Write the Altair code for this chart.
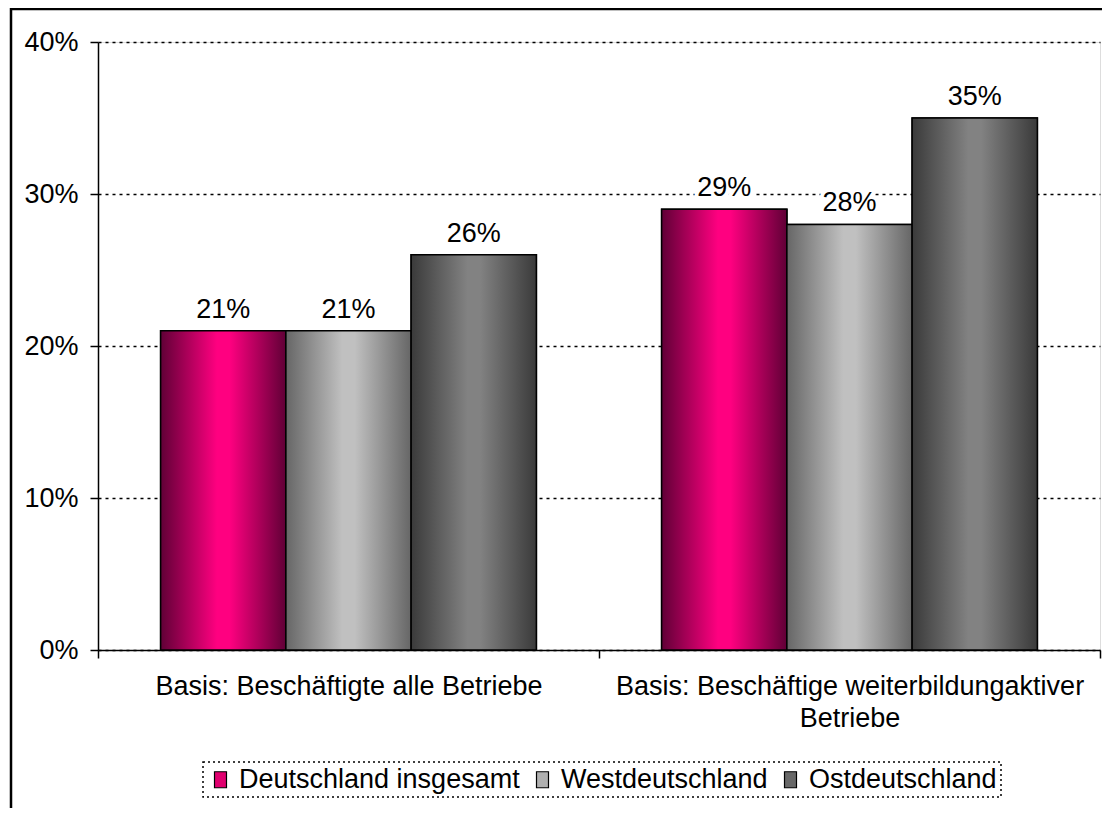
import altair as alt
import pandas as pd

categories = [
    "Basis: Beschäftigte alle Betriebe",
    "Basis: Beschäftige weiterbildungaktiver Betriebe",
]
regions = ["Deutschland insgesamt", "Westdeutschland", "Ostdeutschland"]
values_deutschland = [0.21, 0.29]
values_west = [0.21, 0.28]
values_ost = [0.26, 0.35]
y_ticks = [0, 0.1, 0.2, 0.3, 0.4]

legend_colors = ["#e0006f", "#b0b0b0", "#686868"]
edge_colors = ["#600036", "#666666", "#3a3a3a"]
center_colors = ["#ff0080", "#c0c0c0", "#828282"]

FONT = "Liberation Sans"
FS = 27

rows = []
for reg, vals in zip(regions, [values_deutschland, values_west, values_ost]):
    for cat, v in zip(categories, vals):
        rows.append({"category": cat, "region": reg, "value": v})
df = pd.DataFrame(rows)

x_enc = alt.X(
    "category:N",
    sort=categories,
    scale=alt.Scale(paddingInner=0, paddingOuter=0),
    axis=alt.Axis(
        title=None,
        labelFontSize=FS,
        labelFont=FONT,
        labelColor="black",
        labelAngle=0,
        labelPadding=15,
        labelLineHeight=32,
        labelBaseline="top",
        labelLimit=0,
        labelExpr="length(datum.label) > 40 ? [slice(datum.label, 0, lastindexof(datum.label, ' ')), slice(datum.label, lastindexof(datum.label, ' ') + 1)] : datum.label",
        domainColor="black",
        domainWidth=1.5,
        tickColor="black",
        tickWidth=1.5,
        tickSize=8,
        tickBand="extent",
        grid=False,
    ),
)
y_enc = alt.Y(
    "value:Q",
    scale=alt.Scale(domain=[0, 0.4], nice=False),
    axis=alt.Axis(
        title=None,
        values=y_ticks,
        format=".0%",
        labelFontSize=FS,
        labelFont=FONT,
        labelColor="black",
        labelPadding=12,
        domainColor="black",
        domainWidth=1.5,
        tickColor="black",
        tickWidth=1.5,
        tickSize=8,
        grid=True,
        gridColor="black",
        gridDash=[3, 4],
        gridWidth=1.5,
    ),
)
xoff = alt.XOffset(
    "region:N",
    sort=regions,
    scale=alt.Scale(domain=regions, paddingInner=0, paddingOuter=0.5),
)

base = alt.Chart(df)

legend_layer = base.mark_bar(stroke="black", strokeWidth=1.5).encode(
    x=x_enc,
    y=y_enc,
    xOffset=xoff,
    color=alt.Color(
        "region:N",
        sort=regions,
        scale=alt.Scale(domain=regions, range=legend_colors),
        legend=alt.Legend(
            title=None,
            orient="none",
            legendX=105,
            legendY=720,
            direction="horizontal",
            symbolType="M-0.75,-1H0.75V1H-0.75Z",
            symbolSize=256,
            symbolStrokeColor="black",
            symbolStrokeWidth=1.2,
            symbolOpacity=1,
            labelFontSize=FS,
            labelFont=FONT,
            labelColor="black",
            labelLimit=0,
            labelOffset=5,
            columnPadding=9,
            padding=4,
            strokeColor="black",
        ),
    ),
)

grad_layers = []
for reg, ec, cc in zip(regions, edge_colors, center_colors):
    grad = alt.Gradient(
        gradient="linear",
        x1=0, x2=1, y1=0, y2=0,
        stops=[
            alt.GradientStop(color=ec, offset=0),
            alt.GradientStop(color=cc, offset=0.45),
            alt.GradientStop(color=cc, offset=0.55),
            alt.GradientStop(color=ec, offset=1),
        ],
    )
    grad_layers.append(
        base.transform_filter(alt.datum.region == reg)
        .mark_bar(fill=grad, stroke="black", strokeWidth=1.5)
        .encode(x=x_enc, y=y_enc, xOffset=xoff)
    )

label_bg = base.mark_text(
    baseline="alphabetic", dy=-13, fontSize=FS, font=FONT,
    fill="white", stroke="white", strokeWidth=8,
).encode(x=x_enc, y=y_enc, xOffset=xoff, text=alt.Text("value:Q", format=".0%"))

labels = base.mark_text(
    baseline="alphabetic", dy=-13, fontSize=FS, font=FONT, color="black",
).encode(x=x_enc, y=y_enc, xOffset=xoff, text=alt.Text("value:Q", format=".0%"))

border = alt.Chart(pd.DataFrame({"a": [0]})).mark_rect(
    fill=None, stroke="black", strokeWidth=2.5
).encode(
    x=alt.value(-87), x2=alt.value(1300),
    y=alt.value(-33), y2=alt.value(1000),
)

chart = alt.layer(
    legend_layer, *grad_layers, label_bg, labels, border
).properties(
    width=1002,
    height=608,
    autosize=alt.AutoSizeParams(type="none"),
    padding={"left": 90, "top": 34, "right": 2, "bottom": 158},
).configure_view(stroke=None).configure(background="white").configure_legend(
    strokeDash=[2, 3], strokeWidth=1.5
)

chart.save("out.html", embed_options={"renderer": "svg", "actions": False})
